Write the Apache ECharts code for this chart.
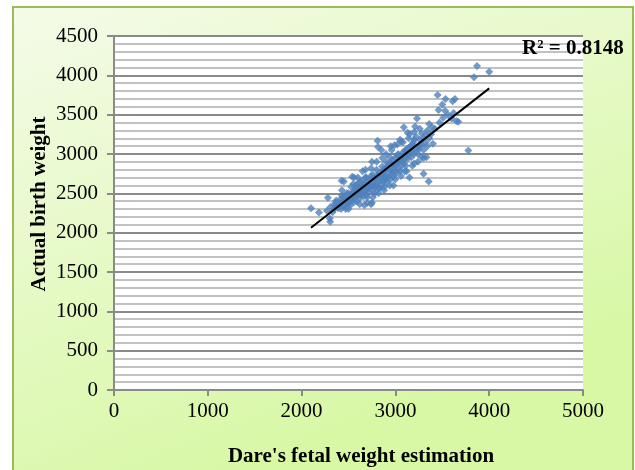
<!DOCTYPE html>
<html>
<head>
<meta charset="utf-8">
<script src="https://cdn.jsdelivr.net/npm/echarts@6/dist/echarts.min.js"></script>
<style>html,body{margin:0;padding:0;background:#fff;}#c{width:635px;height:470px;}</style>
</head>
<body>
<div id="c"></div>
<script>
// Dare's fetal weight estimation (x) vs actual birth weight (y)
var estX = [2100,2185,2270,2280,2300,2305,2310,2330,2350,2360,2380,2390,2400,2410,2420,2427,2430,2430,2440,2450,2460,2470,2480,2490,2500,2500,2510,2520,2530,2540,2540,2550,2560,2570,2580,2590,2600,2600,2610,2620,2630,2640,2650,2650,2660,2670,2680,2690,2690,2700,2700,2710,2720,2730,2740,2750,2750,2760,2770,2780,2790,2800,2800,2810,2815,2820,2830,2840,2850,2860,2870,2880,2890,2900,2900,2910,2920,2930,2940,2950,2960,2970,2980,2990,3000,3000,3010,3020,3030,3040,3050,3060,3070,3080,3090,3100,3110,3120,3130,3140,3150,3160,3170,3180,3190,3200,3210,3220,3230,3240,3250,3260,3280,3300,3300,3320,3330,3340,3355,3360,3380,3390,3400,3420,3450,3460,3470,3500,3510,3530,3535,3560,3600,3610,3620,3635,3650,3670,3777,3838,3870,4000,
2350,2370,2440,2460,2480,2510,2530,2550,2560,2575,2590,2610,2620,2630,2650,2660,2670,2680,2700,2710,2720,2730,2740,2760,2770,2780,2790,2810,2820,2830,2850,2860,2870,2880,2890,2900,2920,2930,2950,2960,2970,2980,3000,3010,3020,3040,3050,3060,3080,3090,3100,3110,3130,3140,3160,3180,3200,3220,3240,3260,3280,3300,3320,3340,3360,3280,2600,2470,2420,2520,
2450,2500,2560,2620,2680,2700,2740,2760,2800,2820,2860,2880,2900,2940,2960,3000,3020,3060,3080,3120,3140,3180,3200,3240,3260,3300,3150,3050,2950,2850,2750,2650,2550,2980,3100,3200];
var actualY = [2310,2255,2280,2445,2180,2140,2330,2260,2300,2380,2330,2310,2350,2420,2380,2660,2540,2470,2330,2400,2440,2370,2360,2420,2500,2390,2450,2410,2580,2710,2480,2430,2520,2470,2550,2400,2620,2480,2530,2440,2590,2500,2660,2560,2460,2620,2540,2700,2480,2600,2560,2640,2520,2680,2360,2380,2590,2740,2650,2500,2700,2620,2800,3170,3090,2560,2760,2680,2600,2840,2720,2650,2790,2900,2700,2640,2850,2760,2960,2680,2880,2800,2720,3110,2950,2840,2760,2900,3000,2820,2920,3160,2860,3020,3340,2940,2850,3060,3270,2980,2700,3100,2960,3040,3150,3000,3350,3220,3450,3100,3060,3180,3120,2750,3200,3150,2960,3300,2650,3380,3250,3340,3130,3320,3750,3560,3400,3630,3460,3550,3700,3500,3450,3670,3520,3700,3420,3410,3046,3975,4120,4045,
2350,2410,2450,2350,2500,2380,2450,2520,2390,2600,2480,2570,2650,2480,2520,2600,2350,2700,2450,2560,2620,2580,2720,2540,2600,2680,2580,2720,2650,2560,2740,2660,2800,2580,2720,2820,2700,2880,2800,2740,2920,2860,2780,2880,2980,2900,2780,2960,2920,2880,3040,3000,2940,3080,3020,3120,3180,3060,3000,3110,3260,3050,3240,3100,3200,2960,2700,2300,2300,2350,
2650,2300,2700,2360,2800,2380,2820,2450,2900,2500,2950,2540,3000,2600,3050,2680,3120,2720,3150,2780,3200,2850,3280,2900,3320,2950,3250,3180,3100,3050,2900,2780,2620,2600,2780,2880];
var trendX = [2100, 4000];
var trendY = [2063, 3834];
var xTicks = [0, 1000, 2000, 3000, 4000, 5000];
var yTicks = [0, 500, 1000, 1500, 2000, 2500, 3000, 3500, 4000, 4500];
var r2Label = 'R² = 0.8148';
var xTitle = "Dare's fetal weight estimation";
var yTitle = 'Actual birth weight';

var pts = estX.map(function(x, i){ return [x, actualY[i]]; });
var trend = trendX.map(function(x, i){ return [x, trendY[i]]; });
var serif = '"Liberation Serif", "DejaVu Serif", serif';

var chart = echarts.init(document.getElementById('c'));
chart.setOption({
  animation: false,
  backgroundColor: '#ffffff',
  graphic: [
    {type: 'rect', z: -10, shape: {x: 13, y: 7, width: 620, height: 480},
     style: {fill: new echarts.graphic.LinearGradient(0, 0, 0.3, 1, [{offset: 0, color: '#f4fbe8'}, {offset: 1, color: '#d8f8a6'}]), stroke: '#9bbb59', lineWidth: 2}},
    {type: 'text', left: 522, top: 38, z: 10,
     style: {text: r2Label, font: 'bold 21px ' + serif, fill: '#000'}},
    {type: 'text', x: 361, y: 457, z: 10,
     style: {text: xTitle, font: 'bold 21px ' + serif, fill: '#000', align: 'center', verticalAlign: 'middle'}},
    {type: 'text', x: 40, y: 204, rotation: Math.PI / 2, z: 10,
     style: {text: yTitle, font: 'bold 21px ' + serif, fill: '#000', align: 'center', verticalAlign: 'middle'}}
  ],
  grid: {left: 114, right: 52, top: 36, bottom: 80, show: true, backgroundColor: '#ffffff', borderWidth: 0},
  xAxis: {
    type: 'value', min: xTicks[0], max: xTicks[xTicks.length - 1], interval: 1000,
    axisLine: {show: true, onZero: false, lineStyle: {color: '#8a8a8a', width: 2}},
    axisTick: {show: true, length: 6, lineStyle: {color: '#8a8a8a', width: 2}},
    axisLabel: {fontFamily: serif, fontSize: 21, color: '#000', margin: 11, formatter: function(v){ return String(v); }},
    splitLine: {show: false}
  },
  yAxis: {
    type: 'value', min: yTicks[0], max: yTicks[yTicks.length - 1], interval: 500,
    axisLine: {show: true, onZero: false, lineStyle: {color: '#8a8a8a', width: 2}},
    axisTick: {show: true, length: 7, lineStyle: {color: '#8a8a8a', width: 2}},
    axisLabel: {fontFamily: serif, fontSize: 21, color: '#000', margin: 16, formatter: function(v){ return String(v); }},
    splitLine: {show: true, lineStyle: {color: '#8a8a8a', width: 2}},
    minorTick: {show: false, splitNumber: 5},
    minorSplitLine: {show: true, lineStyle: {color: '#c2c2c2', width: 2}}
  },
  series: [
    {type: 'scatter', data: pts, symbol: 'diamond', symbolSize: 8,
     itemStyle: {color: '#4f81bd'}, z: 3},
    {type: 'line', data: trend, showSymbol: false, symbol: 'none',
     lineStyle: {color: '#000', width: 2}, z: 4}
  ]
});
</script>
</body>
</html>
